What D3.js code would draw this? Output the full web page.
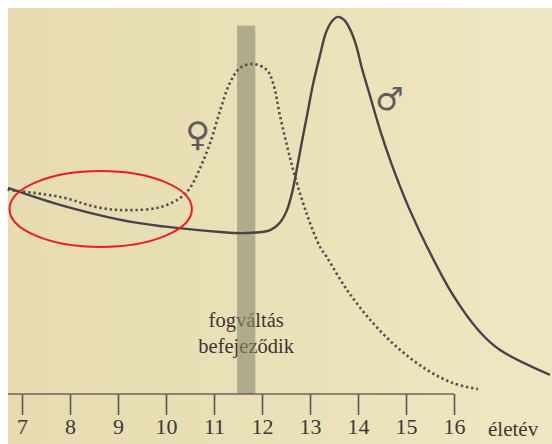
<!DOCTYPE html>
<html>
<head>
<meta charset="utf-8">
<script src="https://cdn.jsdelivr.net/npm/d3@7"></script>
<style>
  html, body { margin: 0; padding: 0; background: #fff; }
  svg { display: block; }
</style>
</head>
<body>
<div id="chart"></div>
<script>
// growth velocity (arbitrary units) by age
const boyAges = [6.71, 7.79, 9.31, 11.13, 11.65, 12.17, 12.38, 12.52, 12.63, 12.73, 12.83, 12.94, 13.06, 13.21, 13.33, 13.46, 13.58, 13.71, 13.83, 13.96, 14.08, 14.25, 14.46, 14.67, 14.88, 15.08, 15.44, 15.98, 16.54, 16.96, 18.0];
const boyValues = [5.48, 5.03, 4.57, 4.31, 4.28, 4.36, 4.57, 4.89, 5.37, 6.01, 6.70, 7.42, 8.22, 9.02, 9.60, 9.92, 10.03, 9.95, 9.71, 9.28, 8.67, 7.93, 7.02, 6.22, 5.51, 4.89, 3.91, 2.63, 1.65, 1.17, 0.51];

const girlAges = [6.7, 7.8, 8.63, 9.25, 9.88, 10.29, 10.5, 10.71, 10.92, 11.13, 11.33, 11.54, 11.81, 12.1, 12.23, 12.38, 12.58, 12.69, 12.94, 13.21, 13.35, 13.77, 14.31, 14.88, 15.44, 15.98, 16.5];
const girlValues = [5.43, 5.24, 4.95, 4.89, 4.97, 5.21, 5.48, 6.01, 6.68, 7.55, 8.27, 8.67, 8.78, 8.62, 8.27, 7.37, 6.30, 5.77, 4.76, 3.91, 3.64, 2.77, 1.89, 1.17, 0.64, 0.29, 0.13];

const tickAges = [7, 8, 9, 10, 11, 12, 13, 14, 15, 16];
const axisLabel = "életév";
const bandAges = [11.48, 11.86];   // end of tooth change
const bandTop = 9.8;
const bandText = ["fogváltás", "befejeződik"];

const width = 552, height = 444;

const svg = d3.select("#chart").append("svg")
    .attr("width", width)
    .attr("height", height);

// photographed page
const grad = svg.append("defs").append("linearGradient")
    .attr("id", "paper")
    .attr("x1", "0%").attr("x2", "100%")
    .attr("y1", "0%").attr("y2", "0%");
grad.append("stop").attr("offset", "0%").attr("stop-color", "#e6dbb1");
grad.append("stop").attr("offset", "60%").attr("stop-color", "#ebe2b9");
grad.append("stop").attr("offset", "100%").attr("stop-color", "#efe7c3");

svg.append("rect")
    .attr("x", 8).attr("y", 8)
    .attr("width", width - 8).attr("height", height - 8)
    .attr("fill", "url(#paper)");

const x = d3.scaleLinear().domain([7, 16]).range([22, 454]);
const y = d3.scaleLinear().domain([0, 10]).range([394, 18]);

const ink = "#4a4248";

// text under the band
const label = svg.append("g")
    .attr("font-family", "'Liberation Serif', serif")
    .attr("font-size", 20.5)
    .attr("fill", "#3b3535")
    .attr("text-anchor", "middle");
label.selectAll("text")
    .data(bandText)
    .enter().append("text")
    .attr("x", x(d3.mean(bandAges)))
    .attr("y", (d, i) => 327 + i * 26)
    .text(d => d);

// grey band
svg.append("rect")
    .attr("x", x(bandAges[0]))
    .attr("y", y(bandTop))
    .attr("width", x(bandAges[1]) - x(bandAges[0]))
    .attr("height", y(0) - y(bandTop))
    .attr("fill", "#8d8a6e")
    .attr("opacity", 0.62);

// axis
svg.append("line")
    .attr("x1", 8).attr("x2", x(16))
    .attr("y1", y(0)).attr("y2", y(0))
    .attr("stroke", "#6b6660")
    .attr("stroke-width", 1.6);

const axis = svg.append("g")
    .attr("transform", "translate(0," + y(0) + ")")
    .call(d3.axisBottom(x).tickValues(tickAges).tickSize(21).tickSizeOuter(0).tickPadding(3));
axis.select(".domain").remove();
axis.selectAll(".tick line")
    .attr("stroke", "#5a5550")
    .attr("stroke-width", 1.6);
axis.selectAll(".tick text")
    .attr("font-family", "'Liberation Serif', serif")
    .attr("font-size", 22)
    .attr("fill", "#3d3838");

svg.append("text")
    .attr("x", 488)
    .attr("y", 436)
    .attr("font-family", "'Liberation Serif', serif")
    .attr("font-size", 21)
    .attr("fill", "#3d3838")
    .text(axisLabel);

// curves
const line = d3.line()
    .x(d => x(d[0]))
    .y(d => y(d[1]))
    .curve(d3.curveCatmullRom.alpha(0.5));

svg.append("path")
    .datum(d3.zip(girlAges, girlValues))
    .attr("d", line)
    .attr("fill", "none")
    .attr("stroke", "#564e52")
    .attr("stroke-width", 2.6)
    .attr("stroke-dasharray", "2.4 2.8");

svg.append("path")
    .datum(d3.zip(boyAges, boyValues))
    .attr("d", line)
    .attr("fill", "none")
    .attr("stroke", ink)
    .attr("stroke-width", 2.4);

// symbols
svg.append("text")
    .attr("x", x(10.66)).attr("y", y(6.6))
    .attr("text-anchor", "middle")
    .attr("font-family", "'DejaVu Sans'")
    .attr("font-size", 34)
    .attr("fill", "#625a5c")
    .text("♀");

svg.append("text")
    .attr("x", x(14.66)).attr("y", y(7.55))
    .attr("text-anchor", "middle")
    .attr("font-family", "'DejaVu Sans'")
    .attr("font-size", 32)
    .attr("fill", "#625a5c")
    .text("♂");

// red ellipse marking the early years
svg.append("ellipse")
    .attr("cx", x(8.64))
    .attr("cy", y(4.92))
    .attr("rx", x(8.64 + 1.9) - x(8.64))
    .attr("ry", y(0) - y(1.01))
    .attr("fill", "none")
    .attr("stroke", "#ec1c24")
    .attr("stroke-width", 2);
</script>
</body>
</html>
